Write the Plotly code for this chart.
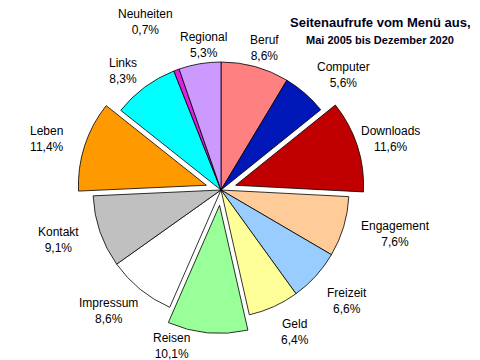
import math
import plotly.graph_objects as go

categories = ["Beruf", "Computer", "Downloads", "Engagement", "Freizeit", "Geld",
              "Reisen", "Impressum", "Kontakt", "Leben", "Links", "Neuheiten", "Regional"]
values = [8.6, 5.6, 11.6, 7.6, 6.6, 6.4, 10.1, 8.6, 9.1, 11.4, 8.3, 0.7, 5.3]
colors = ["#FF8080", "#0018B8", "#C00000", "#FFCC99", "#99CCFF", "#FFFF99",
          "#99FF99", "#FFFFFF", "#C0C0C0", "#FF9900", "#00FFFF", "#E020E0", "#CC99FF"]
pulled = ["Downloads", "Reisen", "Leben"]
PULL = 0.12
pull = [PULL if c in pulled else 0 for c in categories]

# Label nudges (pixels) where the original moved a label away from its default spot
label_nudge = {"Neuheiten": (-13, -30), "Reisen": (-32, -15), "Regional": (12, 0),
               "Computer": (8, -4), "Downloads": (-15, 0), "Leben": (-3, 0),
               "Freizeit": (-3, 7), "Geld": (6, 0)}

# The page body has an 8px margin; the figure is sized so the visible window matches
OFF = 8
W, H = 480 - OFF, 360 - OFF
R_PX = 128
half = R_PX * (1 + PULL)
CX, CY = 213, 182  # pie centre in figure pixels
dom_x = [(CX - half) / W, (CX + half) / W]
dom_y = [(H - CY - half) / H, (H - CY + half) / H]
FONT = "Arial, Liberation Sans, sans-serif"

fig = go.Figure(go.Pie(
    labels=categories,
    values=values,
    sort=False,
    direction="clockwise",
    rotation=0,
    pull=pull,
    marker=dict(colors=colors, line=dict(color="#000000", width=0.8)),
    textinfo="none",
    showlegend=False,
    hoverinfo="label+value",
    domain=dict(x=dom_x, y=dom_y),
))

# Data labels placed around the pie, derived from the pie's own geometry
cx = (dom_x[0] + dom_x[1]) / 2 * W
cy = (1 - (dom_y[0] + dom_y[1]) / 2) * H
R = min((dom_x[1] - dom_x[0]) * W, (dom_y[1] - dom_y[0]) * H) / 2 / (1 + PULL)
total = sum(values)
cum = 0.0
for cat, v, p in zip(categories, values, pull):
    mid = (cum + v / 2) / total * 2 * math.pi
    cum += v
    s, c = math.sin(mid), math.cos(mid)
    txt = f"{cat}<br>{v:.1f}%".replace(".", ",")
    hw = max(len(cat), 5) * 3.4 + 12
    hh = 16 - 5 * c
    r_edge = R * (1.06 + p)
    px = cx + r_edge * s + hw * s
    py = cy - r_edge * c - hh * c
    dx, dy = label_nudge.get(cat, (0, 0))
    px += dx
    py += dy
    fig.add_annotation(
        x=px / W, y=1 - py / H, xref="paper", yref="paper", showarrow=False,
        xanchor="center", yanchor="middle", text=txt, align="center",
        font=dict(family=FONT, size=12, color="#000000"),
    )

fig.add_annotation(
    x=(380 - OFF) / W, y=1 - (22 - OFF) / H, xref="paper", yref="paper", showarrow=False,
    xanchor="center", yanchor="middle",
    text="<b>Seitenaufrufe vom Menü aus,</b>",
    font=dict(family=FONT, size=13, color="#000020"),
)
fig.add_annotation(
    x=(380 - OFF) / W, y=1 - (40 - OFF) / H, xref="paper", yref="paper", showarrow=False,
    xanchor="center", yanchor="middle",
    text="<b>Mai 2005 bis Dezember 2020</b>",
    font=dict(family=FONT, size=11, color="#000020"),
)

fig.update_layout(
    width=W, height=H,
    margin=dict(l=0, r=0, t=0, b=0),
    paper_bgcolor="#FFFFFF",
    plot_bgcolor="#FFFFFF",
    separators=",.",
)

fig.write_html("out.html")
